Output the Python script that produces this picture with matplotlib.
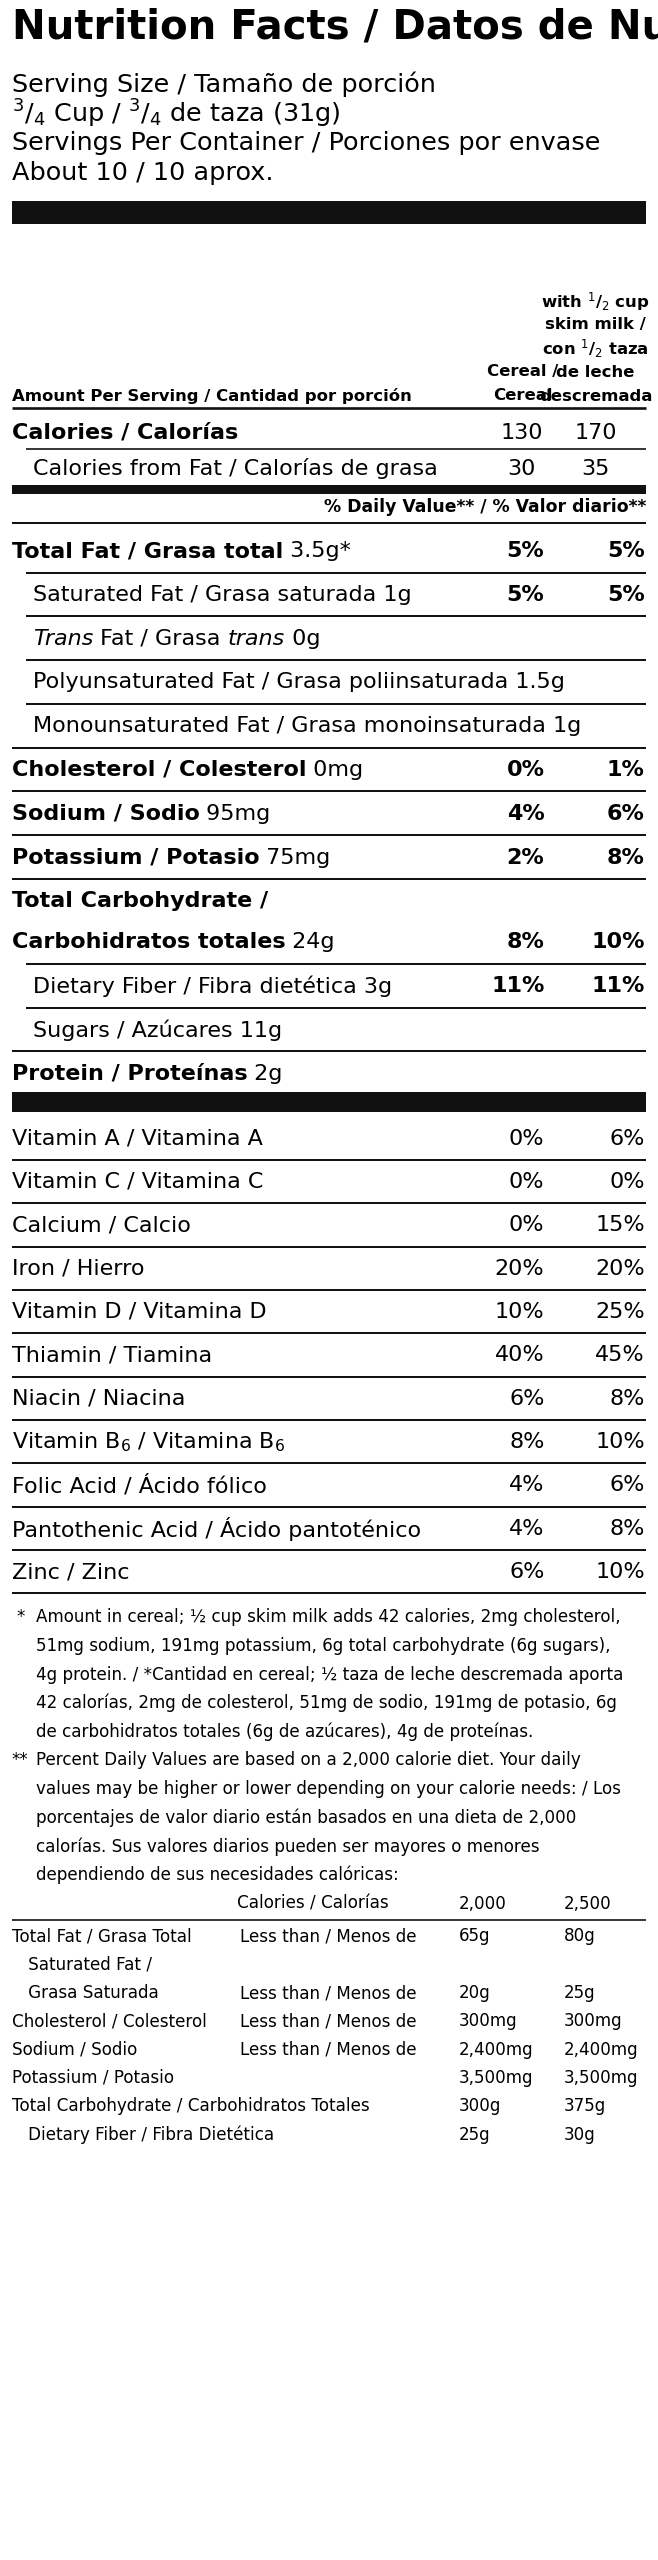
import matplotlib
matplotlib.use('Agg')
import matplotlib.pyplot as plt

plt.rcParams['font.family'] = ['Liberation Sans Narrow', 'DejaVu Sans']
plt.rcParams['mathtext.fontset'] = 'custom'
plt.rcParams['mathtext.rm'] = 'Liberation Sans Narrow'
plt.rcParams['mathtext.bf'] = 'Liberation Sans Narrow:bold'

## data
title = 'Nutrition Facts / Datos de Nutrición'
serving = ['Serving Size / Tamaño de porción',
           r'$^{3}$/$_{4}$ Cup / $^{3}$/$_{4}$ de taza (31g)',
           'Servings Per Container / Porciones por envase',
           'About 10 / 10 aprox.']
cal_vals = ['130', '170']
fat_cal_vals = ['30', '35']

# (runs, indent, cereal %, milk %)
nutr_rows = [
    ([('Total Fat / Grasa total', 'bold', 'normal'), (' 3.5g*', 'normal', 'normal')], 0, '5%', '5%'),
    ([('Saturated Fat / Grasa saturada 1g', 'normal', 'normal')], 1, '5%', '5%'),
    ([('Trans', 'normal', 'italic'), (' Fat / Grasa ', 'normal', 'normal'),
      ('trans', 'normal', 'italic'), (' 0g', 'normal', 'normal')], 1, '', ''),
    ([('Polyunsaturated Fat / Grasa poliinsaturada 1.5g', 'normal', 'normal')], 1, '', ''),
    ([('Monounsaturated Fat / Grasa monoinsaturada 1g', 'normal', 'normal')], 1, '', ''),
    ([('Cholesterol / Colesterol', 'bold', 'normal'), (' 0mg', 'normal', 'normal')], 0, '0%', '1%'),
    ([('Sodium / Sodio', 'bold', 'normal'), (' 95mg', 'normal', 'normal')], 0, '4%', '6%'),
    ([('Potassium / Potasio', 'bold', 'normal'), (' 75mg', 'normal', 'normal')], 0, '2%', '8%'),
    ([('Carbohidratos totales', 'bold', 'normal'), (' 24g', 'normal', 'normal')], 0, '8%', '10%'),
    ([('Dietary Fiber / Fibra dietética 3g', 'normal', 'normal')], 1, '11%', '11%'),
    ([('Sugars / Azúcares 11g', 'normal', 'normal')], 1, '', ''),
    ([('Protein / Proteínas', 'bold', 'normal'), (' 2g', 'normal', 'normal')], 0, '', ''),
]

vitamins = ['Vitamin A / Vitamina A', 'Vitamin C / Vitamina C', 'Calcium / Calcio',
            'Iron / Hierro', 'Vitamin D / Vitamina D', 'Thiamin / Tiamina',
            'Niacin / Niacina', r'Vitamin B$_6$ / Vitamina B$_6$',
            'Folic Acid / Ácido fólico', 'Pantothenic Acid / Ácido pantoténico',
            'Zinc / Zinc']
vit_cereal = ['0%', '0%', '0%', '20%', '10%', '40%', '6%', '8%', '4%', '4%', '6%']
vit_milk = ['6%', '0%', '15%', '20%', '25%', '45%', '8%', '10%', '6%', '8%', '10%']

foot1 = ['Amount in cereal; ½ cup skim milk adds 42 calories, 2mg cholesterol,',
         '51mg sodium, 191mg potassium, 6g total carbohydrate (6g sugars),',
         '4g protein. / *Cantidad en cereal; ½ taza de leche descremada aporta',
         '42 calorías, 2mg de colesterol, 51mg de sodio, 191mg de potasio, 6g',
         'de carbohidratos totales (6g de azúcares), 4g de proteínas.']
foot2 = ['Percent Daily Values are based on a 2,000 calorie diet. Your daily',
         'values may be higher or lower depending on your calorie needs: / Los',
         'porcentajes de valor diario están basados en una dieta de 2,000',
         'calorías. Sus valores diarios pueden ser mayores o menores',
         'dependiendo de sus necesidades calóricas:']

dv_labels = ['Total Fat / Grasa Total', '   Saturated Fat /', '   Grasa Saturada',
             'Cholesterol / Colesterol', 'Sodium / Sodio', 'Potassium / Potasio',
             'Total Carbohydrate / Carbohidratos Totales', '   Dietary Fiber / Fibra Dietética']
dv_limit = ['Less than / Menos de', '', 'Less than / Menos de', 'Less than / Menos de',
            'Less than / Menos de', '', '', '']
dv_2000 = ['65g', '', '20g', '300mg', '2,400mg', '3,500mg', '300g', '25g']
dv_2500 = ['80g', '', '25g', '300mg', '2,400mg', '3,500mg', '375g', '30g']

## figure, coordinates in units of a 400 px wide label
fig = plt.figure(figsize=(6.58, 25.6), dpi=100)
ax = fig.add_axes([0, 0, 1, 1])
ax.set_xlim(0, 400)
ax.set_ylim(1556, 0)
ax.axis('off')
renderer = fig.canvas.get_renderer()

L, R = 7, 393
CX, MX = 331, 392
S = 1.645 * 0.72  # display unit -> points

def hline(y, lw, x0=L):
    ax.plot([x0, R], [y, y], color='#111111', linewidth=lw * S, solid_capstyle='butt')

def bar(y0, y1):
    ax.fill_between([L, R], y0, y1, color='#111111', linewidth=0)

def runs_text(x, y, runs, size):
    for s, w, st in runs:
        t = ax.text(x, y, s, fontsize=size, fontweight=w, fontstyle=st, va='center')
        bb = t.get_window_extent(renderer)
        x = ax.transData.inverted().transform((bb.x1, bb.y0))[0]

ax.text(L, 17, title, fontsize=24.5 * S, fontweight='bold', va='center')
for i, s in enumerate(serving):
    ax.text(L, 51 + i * 18, s, fontsize=15.5 * S, va='center')
bar(122, 136)

hs = 10 * S
for i, s in enumerate(['with $^{1}$/$_{2}$ cup', 'skim milk /', 'con $^{1}$/$_{2}$ taza',
                       'de leche', 'descremada']):
    ax.text(362, 183 + i * 14.5, s, fontsize=hs, fontweight='bold', ha='center', va='center')
ax.text(318, 226, 'Cereal /', fontsize=hs, fontweight='bold', ha='center', va='center')
ax.text(318, 240.5, 'Cereal', fontsize=hs, fontweight='bold', ha='center', va='center')
ax.text(L, 240.5, 'Amount Per Serving / Cantidad por porción', fontsize=hs,
        fontweight='bold', va='center')
hline(248, 1.6)

rs = 13.5 * S
ax.text(L, 263, 'Calories / Calorías', fontsize=rs, fontweight='bold', va='center')
ax.text(317, 263, cal_vals[0], fontsize=rs, ha='center', va='center')
ax.text(362, 263, cal_vals[1], fontsize=rs, ha='center', va='center')
hline(273, 1.0, 16)
ax.text(20, 285, 'Calories from Fat / Calorías de grasa', fontsize=rs, va='center')
ax.text(317, 285, fat_cal_vals[0], fontsize=rs, ha='center', va='center')
ax.text(362, 285, fat_cal_vals[1], fontsize=rs, ha='center', va='center')
bar(295, 300)
ax.text(R, 308, '% Daily Value** / % Valor diario**', fontsize=10.5 * S,
        fontweight='bold', ha='right', va='center')
hline(318, 1.2)

y = 335
for k, (runs, ind, c, m) in enumerate(nutr_rows):
    x0 = 20 if ind else L
    if k == 8:
        ax.text(L, y, 'Total Carbohydrate /', fontsize=rs, fontweight='bold', va='center')
        y += 25
    runs_text(x0, y, runs, rs)
    ax.text(CX, y, c, fontsize=rs, fontweight='bold', ha='right', va='center')
    ax.text(MX, y, m, fontsize=rs, fontweight='bold', ha='right', va='center')
    if k < len(nutr_rows) - 1:
        nxt = nutr_rows[k + 1][1]
        hline(y + 13, 1.2, 16 if nxt else L)
    y += 26.6
bar(664, 676)

y = 692
for k, v in enumerate(vitamins):
    ax.text(L, y, v, fontsize=rs, va='center')
    ax.text(CX, y, vit_cereal[k], fontsize=rs, ha='right', va='center')
    ax.text(MX, y, vit_milk[k], fontsize=rs, ha='right', va='center')
    hline(y + 13, 1.2)
    y += 26.35

fs = 10.2 * S
y = 983
ax.text(10, y, '*', fontsize=fs, va='center')
for s in foot1:
    ax.text(22, y, s, fontsize=fs, va='center')
    y += 17.4
ax.text(7, y, '**', fontsize=fs, va='center')
for s in foot2:
    ax.text(22, y, s, fontsize=fs, va='center')
    y += 17.4

ax.text(144, y, 'Calories / Calorías', fontsize=fs, va='center')
ax.text(279, y, '2,000', fontsize=fs, va='center')
ax.text(343, y, '2,500', fontsize=fs, va='center')
hline(y + 10, 1.0)
y += 20
for k, s in enumerate(dv_labels):
    ax.text(L, y, s, fontsize=fs, va='center')
    ax.text(146, y, dv_limit[k], fontsize=fs, va='center')
    ax.text(279, y, dv_2000[k], fontsize=fs, va='center')
    ax.text(343, y, dv_2500[k], fontsize=fs, va='center')
    y += 17.2

plt.savefig('out.png', format='png')
